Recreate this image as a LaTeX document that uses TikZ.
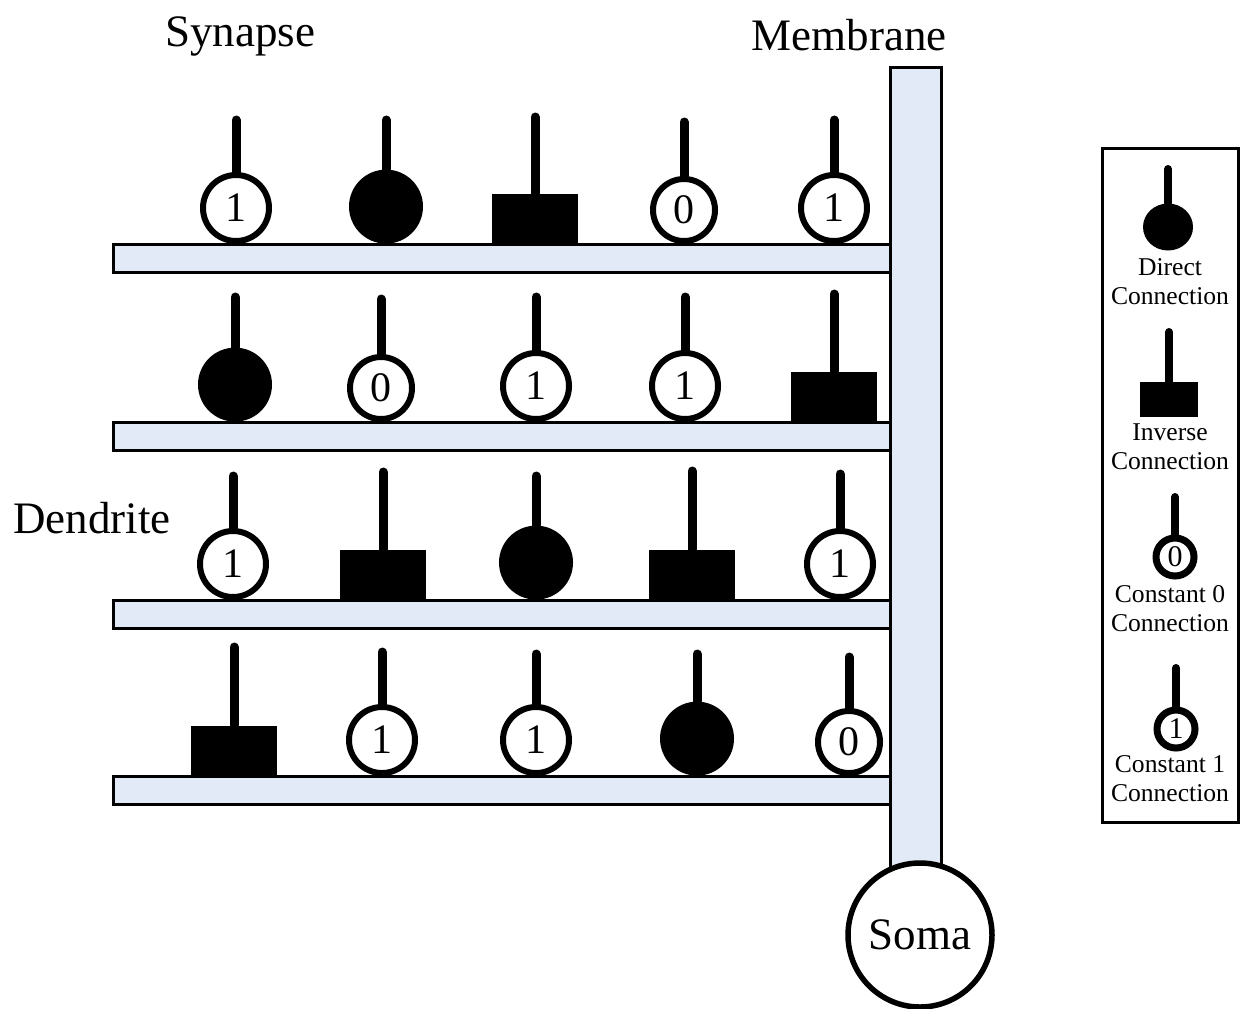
\documentclass[tikz,border=0pt]{standalone}
\usepackage{fontspec}
\setmainfont{Liberation Serif}
\usetikzlibrary{shapes.geometric}
\definecolor{dendfill}{RGB}{226,234,247}
\begin{document}
\begin{tikzpicture}[x=0.5pt, y=-0.5pt,
  bar/.style={draw, line width=1.5pt, fill=dendfill},
  stem/.style={draw, line width=4.5pt, line cap=round},
  legstem/.style={draw, line width=4pt, line cap=round},
  synone/.style={circle, draw, line width=3pt, fill=white, inner sep=0pt,
    minimum size=33pt, font=\fontsize{21}{21}\selectfont, anchor=south},
  synzero/.style={synone, minimum size=31pt},
  syndirect/.style={circle, fill=black, inner sep=0pt, minimum size=37pt, anchor=south},
  syninverse/.style={rectangle, fill=black, inner sep=0pt,
    minimum width=43pt, minimum height=25pt, anchor=south},
  headtext/.style={font=\fontsize{22.5}{27}\selectfont, anchor=base},
  legtext/.style={font=\fontsize{12.8}{14.5}\selectfont, align=center},
  legconst/.style={circle, draw, line width=3.5pt, fill=white, inner sep=0pt,
    minimum size=19pt, font=\fontsize{15}{15}\selectfont},
]
\useasboundingbox (0,0) rectangle (1241,1008);

% dendrite bars
\foreach \r/\by in {1/244, 2/422, 3/600, 4/776}
  \draw[bar] (113,\by) rectangle (890,\by+28);

% membrane and soma
\draw[bar] (890,67) rectangle (941,890);
\node[circle, draw, line width=2.75pt, fill=white, inner sep=0pt, minimum size=72pt,
  font=\fontsize{22.5}{27}\selectfont] (soma) at (920,935) {Soma};

% synapses: column / x / kind / text / stem top offset above the bar
\newcommand\synrow[2]{%
  \foreach \c/\x/\kind/\txt/\h in {#2} {
    \node[syn\kind] (s#1\c) at (\x,\by) {\txt};
    \coordinate (t#1\c) at (\x,\by-\h);
    \draw[stem] (s#1\c.north) -- (t#1\c);
  }}
\def\by{244}
\synrow{1}{1/236/one/1/124, 2/386/direct/{}/124, 3/535/inverse/{}/127, 4/684/zero/0/122, 5/834/one/1/124}
\def\by{422}
\synrow{2}{1/235/direct/{}/125, 2/381/zero/0/123, 3/536/one/1/125, 4/685/one/1/125, 5/834/inverse/{}/128}
\def\by{600}
\synrow{3}{1/233/one/1/124, 2/383/inverse/{}/128, 3/536/direct/{}/124, 4/692/inverse/{}/129, 5/840/one/1/126}
\def\by{776}
\synrow{4}{1/234/inverse/{}/129, 2/382/one/1/124, 3/536/one/1/122, 4/697/direct/{}/122, 5/849/zero/0/119}

% labels
\node[headtext] (synlbl) at (240,46) {Synapse};
\node[headtext] (memlbl) at (849,50) {Membrane};
\node[headtext] (denlbl) at (92,533) {Dendrite};

% legend
\draw[line width=1.5pt] (1102,148) rectangle (1238,822);

\node[ellipse, fill=black, inner sep=0pt, minimum width=25pt, minimum height=23.5pt] (ld) at (1168,227) {};
\coordinate (ldt) at (1168,169);
\draw[legstem] (ld.north) -- (ldt);
\node[legtext] (ldtext) at (1170,282) {Direct\\Connection};

\node[rectangle, fill=black, inner sep=0pt, minimum width=29pt, minimum height=17.5pt] (li) at (1169,399.5) {};
\coordinate (lit) at (1169,332);
\draw[legstem] (li.north) -- (lit);
\node[legtext] (litext) at (1170,447) {Inverse\\Connection};

\node[legconst] (lz) at (1175,557) {0};
\coordinate (lzt) at (1175,497);
\draw[legstem] (lz.north) -- (lzt);
\node[legtext] (lztext) at (1170,609) {Constant 0\\Connection};

\node[legconst] (lo) at (1176,729) {1};
\coordinate (lot) at (1176,668);
\draw[legstem] (lo.north) -- (lot);
\node[legtext] (lotext) at (1170,779) {Constant 1\\Connection};
\end{tikzpicture}
\end{document}
